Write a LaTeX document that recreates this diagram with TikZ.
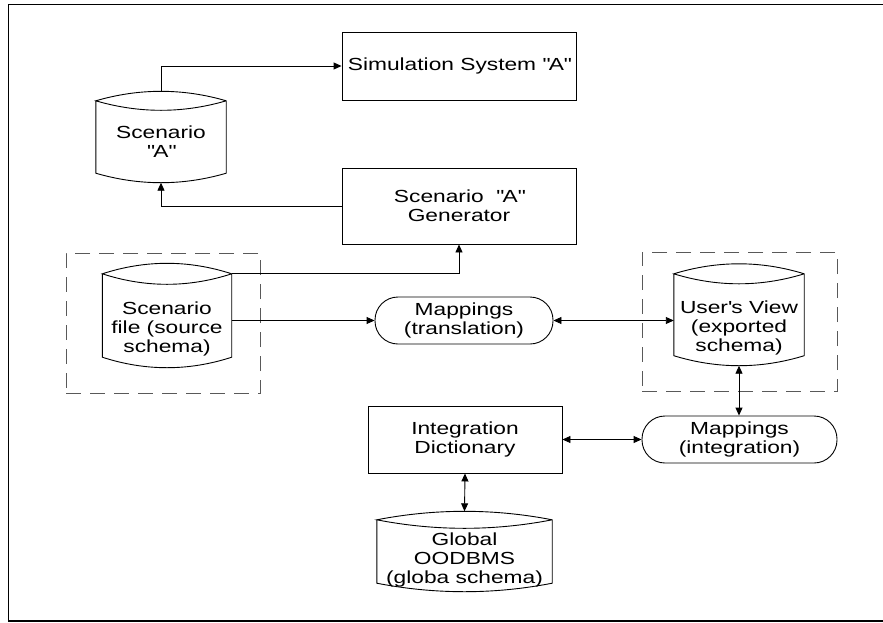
\documentclass[tikz,border=0pt]{standalone}
\usepackage{fontspec}
\setmainfont{Liberation Sans}[FakeStretch=1.3]
\usetikzlibrary{arrows.meta,calc}
\newcommand{\qq}{\textquotedbl}
\tikzset{
 every node/.style={font=\fontsize{17.5}{18.8}\selectfont},
 ln/.style={draw=black,line width=0.9pt},
 boxnode/.style={draw,line width=0.9pt,rectangle,inner sep=0pt,align=center},
 term/.style={draw,line width=0.9pt,rectangle,rounded corners=23pt,inner sep=0pt,align=center},
 cylbody/.style={rectangle,inner sep=0pt},
 txt/.style={align=center,inner sep=0pt},
 arr/.style={line width=0.9pt,-{Triangle[length=8pt,width=7pt]}},
 darr/.style={line width=0.9pt,{Triangle[length=8pt,width=7pt]}-{Triangle[length=8pt,width=7pt]}},
 dashbox/.style={draw=black!65,line width=1pt,dash pattern=on 15pt off 9pt,inner sep=0pt},
}
\newcommand{\cylout}[2]{%
  \coordinate (#1-top) at ($(#1.north)+(0,-#2)$);
  \coordinate (#1-bot) at ($(#1.south)+(0,#2)$);
  \draw[ln] (#1.north west) -- (#1.south west)
    .. controls ($(#1.south west)!0.333!(#1.south east)+(0,1.333*#2)$) and ($(#1.south west)!0.667!(#1.south east)+(0,1.333*#2)$) .. (#1.south east)
    -- (#1.north east)
    .. controls ($(#1.north west)!0.667!(#1.north east)+(0,-1.333*#2)$) and ($(#1.north west)!0.333!(#1.north east)+(0,-1.333*#2)$) .. (#1.north west)
    .. controls ($(#1.north west)!0.333!(#1.north east)+(0,1.333*#2)$) and ($(#1.north west)!0.667!(#1.north east)+(0,1.333*#2)$) .. (#1.north east);
}
\begin{document}
\begin{tikzpicture}[x=1pt,y=-1pt]
\useasboundingbox (0,0) rectangle (883,622);
\draw[line width=1.8pt] (883,4.5) -- (8.5,4.5) -- (8.5,621) -- (883,621);

% boxes
\node[boxnode,minimum width=234,minimum height=68] (sim) at (459,66) {Simulation System \qq A\qq};
\node[boxnode,minimum width=234,minimum height=76] (gen) at (459,206) {Scenario\ \ \qq A\qq\\Generator};
\node[boxnode,minimum width=194,minimum height=67] (idict) at (465,439.5) {Integration\\Dictionary};
\node[term,minimum width=178,minimum height=47] (mt) at (464,320.5) {Mappings\\(translation)};
\node[term,minimum width=195,minimum height=47] (mi) at (739.5,439.5) {Mappings\\(integration)};

% dashed groups
\node[dashbox,minimum width=194,minimum height=140] (db1) at (163,323) {};
\node[dashbox,minimum width=195,minimum height=139] (db2) at (739.5,321.5) {};

% cylinders
\node[cylbody,minimum width=130,minimum height=72] (scA) at (161,137) {};
\node[txt] (scA-t) at (161,141.5) {Scenario\\\qq A\qq};
\cylout{scA}{9.5}

\node[cylbody,minimum width=129,minimum height=83] (sf) at (167,315.5) {};
\node[txt] (sf-t) at (167,329) {Scenario\\file (source\\schema)};
\cylout{sf}{10.5}

\node[cylbody,minimum width=130,minimum height=81.5] (uv) at (739,314.75) {};
\node[txt] (uv-t) at (739,328) {User\textquotesingle s View\\(exported\\schema)};
\cylout{uv}{10}

\node[cylbody,minimum width=175,minimum height=63] (gl) at (464.5,551.5) {};
\node[txt] (gl-t) at (464.5,560) {Global\\OODBMS\\(globa schema)};
\cylout{gl}{8.5}

% connectors
\draw[arr] (scA-top) |- (sim.west);
\draw[arr] (gen.west) -| (scA-bot);
\draw[arr] (sf.north east) -| (gen.south);
\draw[arr] (sf.east |- mt.west) -- (mt.west);
\draw[darr] (mt.east) -- (uv.west |- mt.east);
\draw[darr] (uv-bot) -- (uv-bot |- mi.north);
\draw[darr] (idict.east) -- (mi.west);
\draw[darr] (idict.south) -- (gl-top);
\end{tikzpicture}
\end{document}
